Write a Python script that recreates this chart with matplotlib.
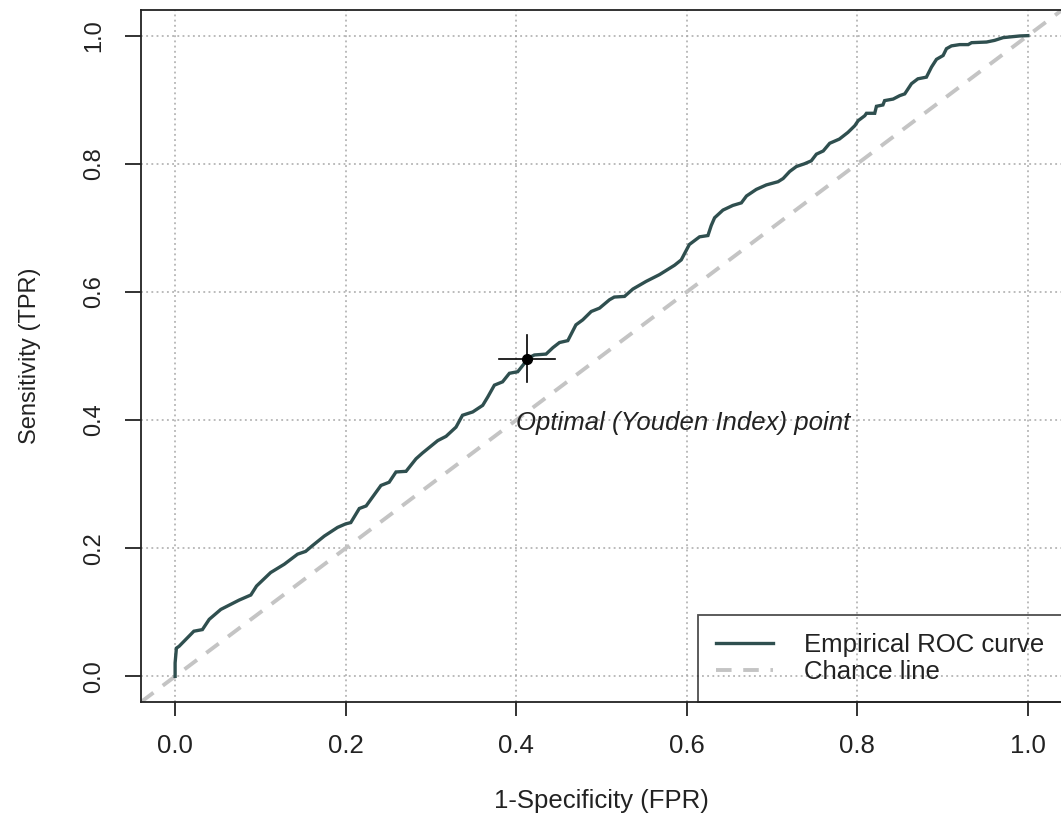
import matplotlib
matplotlib.use("Agg")
import matplotlib.pyplot as plt

plt.rcParams["font.family"] = ["Liberation Sans", "DejaVu Sans"]

# empirical ROC curve
fpr = [0.0, 0.0, 0.0015, 0.0047, 0.022, 0.032, 0.040, 0.0536, 0.075, 0.0888,
       0.0955, 0.112, 0.128, 0.1436, 0.153, 0.161, 0.175, 0.1905, 0.200, 0.206,
       0.216, 0.224, 0.2414, 0.251, 0.259, 0.2708, 0.2825, 0.290, 0.308, 0.3177,
       0.3294, 0.337, 0.349, 0.3607, 0.3666, 0.3744, 0.384, 0.392, 0.4018, 0.4096,
       0.413, 0.4213, 0.435, 0.443, 0.4507, 0.4605, 0.470, 0.478, 0.488, 0.4977,
       0.5094, 0.515, 0.527, 0.5368, 0.5524, 0.568, 0.5857, 0.5935, 0.603, 0.615,
       0.6248, 0.6287, 0.6326, 0.6424, 0.654, 0.664, 0.670, 0.6815, 0.6933, 0.707,
       0.713, 0.7207, 0.7285, 0.738, 0.746, 0.752, 0.760, 0.7676, 0.779, 0.789,
       0.797, 0.801, 0.8087, 0.8107, 0.8204, 0.8224, 0.830, 0.832, 0.842, 0.8498,
       0.8556, 0.8635, 0.871, 0.881, 0.887, 0.8928, 0.9006, 0.9045, 0.9104, 0.920,
       0.930, 0.934, 0.9515, 0.961, 0.971, 0.9906, 1.0]
tpr = [0.0, 0.021, 0.044, 0.047, 0.0705, 0.073, 0.089, 0.1045, 0.119, 0.127,
       0.141, 0.162, 0.175, 0.1907, 0.195, 0.204, 0.219, 0.2325, 0.238, 0.240,
       0.262, 0.266, 0.298, 0.303, 0.319, 0.320, 0.3396, 0.3485, 0.368, 0.3746,
       0.389, 0.4075, 0.4127, 0.423, 0.436, 0.4545, 0.4597, 0.473, 0.4755, 0.4885,
       0.496, 0.5016, 0.503, 0.513, 0.521, 0.524, 0.5486, 0.5564, 0.5695, 0.5747,
       0.5878, 0.592, 0.593, 0.6045, 0.6165, 0.627, 0.6417, 0.650, 0.674, 0.686,
       0.688, 0.7037, 0.7157, 0.7277, 0.735, 0.739, 0.7497, 0.760, 0.767, 0.772,
       0.777, 0.788, 0.7957, 0.800, 0.8046, 0.815, 0.820, 0.832, 0.8386, 0.849,
       0.8594, 0.8673, 0.875, 0.8788, 0.8788, 0.8897, 0.8918, 0.8986, 0.901, 0.9064,
       0.9091, 0.925, 0.9326, 0.9352, 0.951, 0.963, 0.969, 0.9796, 0.984, 0.986,
       0.986, 0.989, 0.990, 0.9926, 0.9969, 0.9995, 1.0]

# Youden point and the half-widths of its cross
opt_x, opt_y = 0.413, 0.496
opt_dx, opt_dy = 0.033, 0.036

ticks = [0.0, 0.2, 0.4, 0.6, 0.8, 1.0]
tick_labels = ["0.0", "0.2", "0.4", "0.6", "0.8", "1.0"]

curve_col = "#2F4F4F"
chance_col = "#C4C4C4"

fig = plt.figure(figsize=(10.61, 8.18), dpi=100)
ax = fig.add_axes([141 / 1061, 116 / 818, 921 / 1061, 692 / 818])

ax.set_xlim(-0.04, 1.04)
ax.set_ylim(-0.04, 1.04)

ax.grid(True, color="#A8A8A8", linestyle=(0, (1.2, 2.2)), linewidth=1.1)
ax.set_axisbelow(True)

ax.axline((0, 0), (1, 1), color=chance_col, lw=2.8, dashes=(4.0, 3.0),
          label="Chance line", zorder=2)
ax.plot(fpr, tpr, color=curve_col, lw=2.4, label="Empirical ROC curve",
        zorder=3, solid_joinstyle="miter")

# cross marking the optimal cut-off
ax.plot([opt_x - opt_dx, opt_x + opt_dx], [opt_y, opt_y], color="black", lw=1.2, zorder=4)
ax.plot([opt_x, opt_x], [opt_y - opt_dy, opt_y + opt_dy], color="black", lw=1.2, zorder=4)
ax.plot(opt_x, opt_y, "o", color="black", ms=7, zorder=5)
ax.text(0.400, 0.395, "Optimal (Youden Index) point", style="italic",
        fontsize=18.5, color="#222222", ha="left", va="center")

ax.set_xticks(ticks)
ax.set_xticklabels(tick_labels, fontsize=18.5, color="#222222")
ax.set_yticks(ticks)
ax.set_yticklabels(tick_labels, fontsize=17, color="#222222", rotation=90, va="center")
ax.tick_params(axis="x", length=10, width=1.3, pad=13, color="#222222")
ax.tick_params(axis="y", length=11.5, width=1.3, pad=14, color="#222222")

for side in ["left", "bottom", "top"]:
    ax.spines[side].set_linewidth(1.3)
    ax.spines[side].set_color("#222222")
ax.spines["right"].set_visible(False)

ax.set_xlabel("1-Specificity (FPR)", fontsize=18.5, color="#222222")
ax.xaxis.set_label_coords(0.5, -0.143)
ax.xaxis.label.set_va("center")
ax.set_ylabel("Sensitivity (TPR)", fontsize=17, color="#222222")
ax.yaxis.set_label_coords(-0.120, 0.5)
ax.yaxis.label.set_va("center")

handles, labels = ax.get_legend_handles_labels()
leg = ax.legend(handles[::-1], labels[::-1], loc="lower right",
                bbox_to_anchor=(1.0, 0.0), borderaxespad=0, fontsize=18.5,
                frameon=True, fancybox=False, facecolor="none", edgecolor="#222222",
                handlelength=2.2, handletextpad=1.2, borderpad=0.7,
                labelspacing=0.12)
leg.get_frame().set_linewidth(1.3)
for t in leg.get_texts():
    t.set_color("#222222")

fig.savefig("out.png", dpi=100)
